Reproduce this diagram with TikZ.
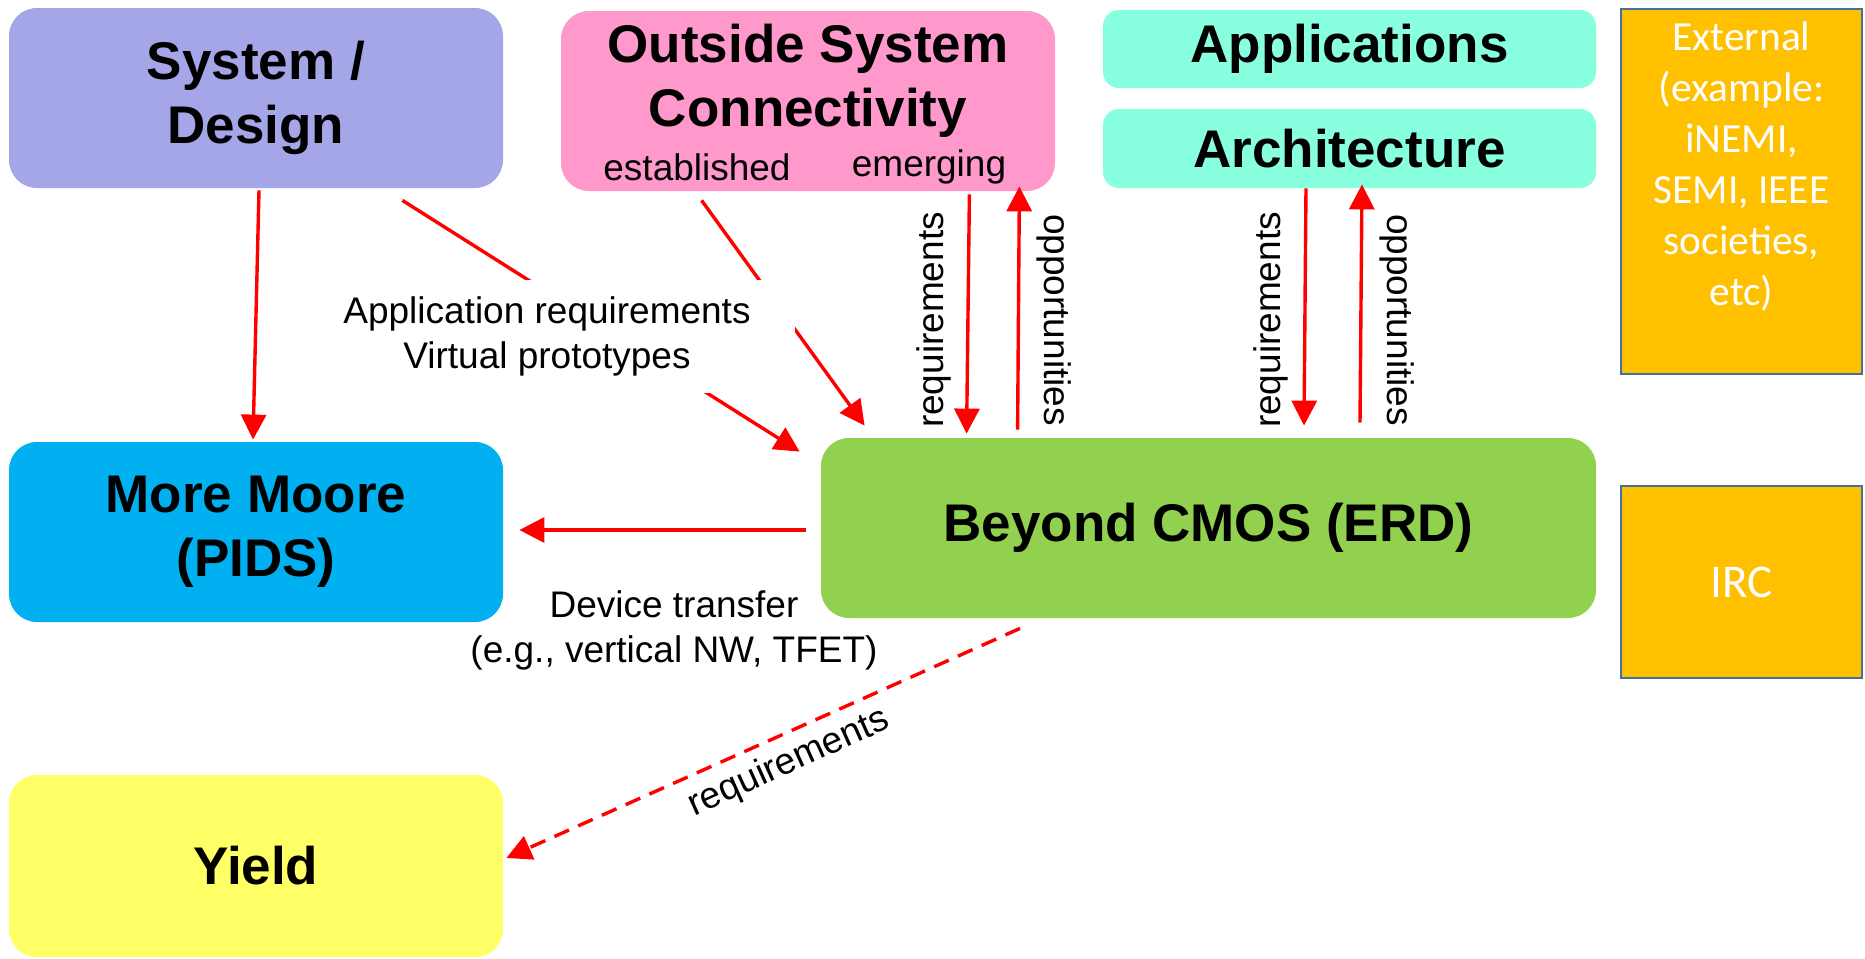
\documentclass[tikz,border=0pt]{standalone}
\usepackage{fontspec}
\setmainfont{Liberation Sans}
\newfontfamily\calibrifam{Carlito}
\usetikzlibrary{arrows.meta,calc}

\definecolor{sysc}{RGB}{165,166,232}
\definecolor{oscc}{RGB}{255,153,204}
\definecolor{aquac}{RGB}{136,255,222}
\definecolor{mmc}{RGB}{0,176,240}
\definecolor{bcc}{RGB}{146,208,80}
\definecolor{yieldc}{RGB}{255,255,102}
\definecolor{extc}{RGB}{255,192,0}
\definecolor{extb}{RGB}{65,113,156}
\definecolor{arrred}{RGB}{255,0,0}

\newcommand\boxfont{\fontsize{26.5pt}{32pt}\selectfont\bfseries}
\newcommand\lblfont{\fontsize{18.5pt}{22.5pt}\selectfont}
\newcommand\extfont{\calibrifam\fontsize{20.7pt}{25.5pt}\selectfont}

\tikzset{
  bigbox/.style={rounded corners=14pt, inner sep=0pt, align=center, font=\boxfont},
  slimbox/.style={rounded corners=8pt, inner sep=0pt, align=center, font=\boxfont},
  extbox/.style={rectangle, fill=extc, draw=extb, line width=1.2pt, inner sep=0pt},
  lbl/.style={inner sep=0pt, align=center, font=\lblfont},
  arr/.style={draw=arrred, line width=1.7pt, -{Triangle[length=12.5pt,width=12.5pt]}},
  dasharr/.style={arr, dash pattern=on 8pt off 5pt}
}

\begin{document}
\begin{tikzpicture}[x=0.5pt,y=-0.5pt]
\useasboundingbox (0,0) rectangle (1865,959);

% roadmap groups
\node[bigbox, fill=sysc, minimum width=247pt, minimum height=90pt] (sys) at (256,98) {System /\\Design};
\node[bigbox, fill=oscc, minimum width=247pt, minimum height=90pt] (osc) at (808,101) {};
\node[bigbox] (osct) at (808,81) {Outside System\\Connectivity};
\node[lbl] (est) at (697,167) {established};
\node[lbl] (emg) at (929,167) {emerging};
\node[slimbox, fill=aquac, minimum width=246.5pt, minimum height=39pt] (app) at (1349.5,49) {Applications};
\node[slimbox, fill=aquac, minimum width=246.5pt, minimum height=39.5pt] (arch) at (1349.5,148.5) {Architecture};
\node[bigbox, fill=mmc, minimum width=247pt, minimum height=90pt] (mm) at (256,532) {More Moore\\(PIDS)};
\node[bigbox, fill=bcc, minimum width=387.5pt, minimum height=90pt] (bc) at (1208.5,528) {Beyond CMOS (ERD)};
\node[bigbox, fill=yieldc, minimum width=247pt, minimum height=91pt] (yld) at (256,866) {Yield};

% external bodies
\node[extbox, minimum width=120.5pt, minimum height=182.5pt] (ext) at (1741.5,191.5) {};
\node[inner sep=0pt, align=center, font=\extfont, text=white] (extt) at (1741.5,166)
  {External\\(example:\\iNEMI,\\SEMI, IEEE\\societies,\\etc)};
\node[extbox, minimum width=120.5pt, minimum height=96pt, font=\calibrifam\fontsize{23.5pt}{28pt}\selectfont, text=white] (irc) at (1741.5,582) {IRC};

% flows into and out of Beyond CMOS
\draw[arr] ($(sys.south)+(3,2)$) -- ($(mm.north)+(-3,-2)$);
\draw[arr] ($(sys.south east)+(-101,12)$) -- ($(bc.north west)+(-21,14)$);
\draw[arr] ($(osc.south west)+(141,9)$) -- ($(bc.north west)+(44,-12)$);
\draw[arr] ($(osc.south east)+(-86,3)$) -- ($(bc.north west)+(146,-4)$);
\draw[arr] ($(bc.north west)+(197,-8)$) -- ($(osc.south east)+(-36,-5)$);
\draw[arr] ($(arch.south)+(-43.5,0)$) -- ($(bc.north)+(95.5,-12)$);
\draw[arr] ($(bc.north)+(151.5,-15)$) -- ($(arch.south)+(12.5,-4)$);
\draw[arr] ($(bc.west)+(-15,2)$) -- ($(mm.east)+(16,-2)$);
\draw[dasharr] ($(bc.south)+(-188.5,10)$) -- ($(yld.east)+(3,-8)$);

% labels
\node[lbl, fill=white, minimum width=248pt, minimum height=56.5pt] (applbl) at (547,336)
  {Application requirements\\Virtual prototypes};
\node[lbl, rotate=90] (req1) at (934,320) {requirements};
\node[lbl, rotate=-90] (opp1) at (1054,320) {opportunities};
\node[lbl, rotate=90] (req2) at (1271,320) {requirements};
\node[lbl, rotate=-90] (opp2) at (1397,320) {opportunities};
\node[lbl] (devlbl) at (674,630) {Device transfer\\(e.g., vertical NW, TFET)};
\node[lbl, rotate=24.3] (req3) at (789,763) {requirements};
\end{tikzpicture}
\end{document}
